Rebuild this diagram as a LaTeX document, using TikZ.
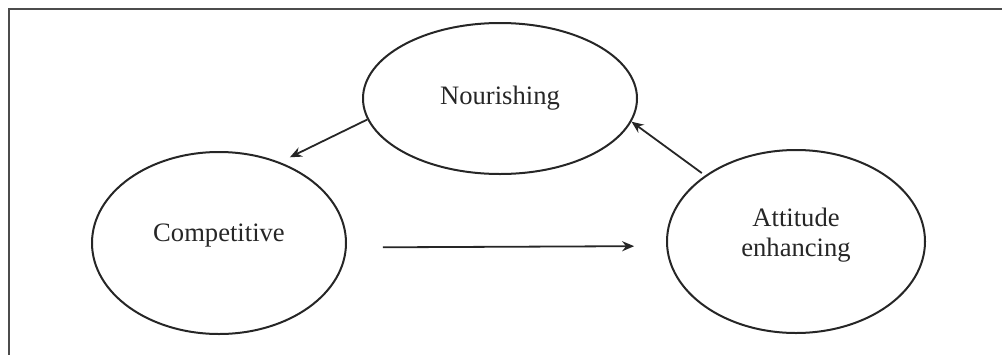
\documentclass[tikz,border=0pt]{standalone}
\usepackage{fontspec}
\setmainfont{Liberation Serif}
\usetikzlibrary{arrows.meta,
                shapes.geometric
                }

\tikzset{
    oval/.style={ellipse, draw=black!85, line width=1pt, inner sep=0pt,
                 text=black!85, align=center,
                 font=\fontsize{13.3}{15}\selectfont},
    pfeil/.style={-{Stealth[length=6pt,width=5pt]}, draw=black!85,
                  line width=0.9pt}
}

\begin{document}
\begin{tikzpicture}[x=0.5pt,y=-0.5pt]
    \useasboundingbox (0,0) rectangle (1002,354);

    % Rahmen
    \begin{scope}
        \clip (0,0) rectangle (1002,354);
        \draw[black!70, line width=1.3pt] (9,400) -- (9,9) -- (1050,9);
    \end{scope}

    % Zeichne die drei Ellipsen
    \node[oval, minimum width=137pt, minimum height=75.5pt] (nour) at (500,98.5) {Nourishing};
    \node[oval, minimum width=127pt, minimum height=91pt, text depth=10pt] (comp) at (219,243) {Competitive};
    \node[oval, minimum width=129pt, minimum height=91.5pt, text height=18pt] (att) at (796,241.5) {Attitude\\enhancing};

    % Zeichne Pfeile
    \draw[pfeil, shorten >=5.5pt] (nour.189) -- (comp.53);
    \draw[pfeil, shorten <=18pt, shorten >=16pt] (comp.-2) -- (att.182);
    \draw[pfeil, shorten <=2pt] (att.144) -- (nour.-10);
\end{tikzpicture}
\end{document}
